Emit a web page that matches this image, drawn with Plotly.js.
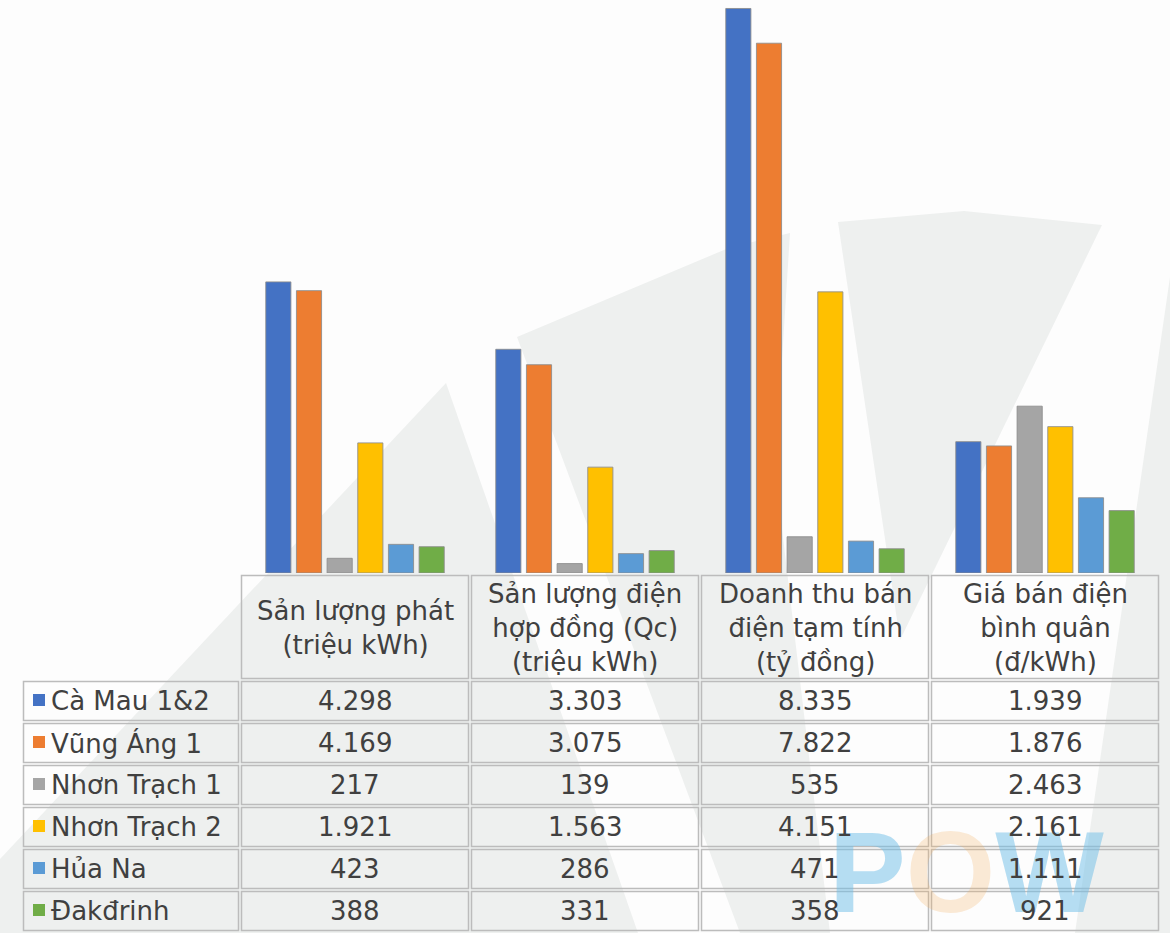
<!DOCTYPE html>
<html>
<head>
<meta charset="utf-8">
<script src="https://cdn.plot.ly/plotly-3.0.1.min.js"></script>
<style>
html,body{margin:0;padding:0;background:#fdfdfd;}
#chart{width:1170px;height:933px;}
</style>
</head>
<body>
<div id="chart"></div>
<script>
// ---- data ----
var categories = [
  "Sản lượng phát<br>(triệu kWh)",
  "Sản lượng điện<br>hợp đồng (Qc)<br>(triệu kWh)",
  "Doanh thu bán<br>điện tạm tính<br>(tỷ đồng)",
  "Giá bán điện<br>bình quân<br>(đ/kWh)"
];
var seriesNames = ["Cà Mau 1&2", "Vũng Áng 1", "Nhơn Trạch 1", "Nhơn Trạch 2", "Hủa Na", "Đakđrinh"];
var caMau      = [4298, 3303, 8335, 1939];
var vungAng    = [4169, 3075, 7822, 1876];
var nhonTrach1 = [217, 139, 535, 2463];
var nhonTrach2 = [1921, 1563, 4151, 2161];
var huaNa      = [423, 286, 471, 1111];
var dakdrinh   = [388, 331, 358, 921];
var seriesValues = [caMau, vungAng, nhonTrach1, nhonTrach2, huaNa, dakdrinh];
var colors = ["#4472c4", "#ed7d31", "#a5a5a5", "#ffc000", "#5b9bd5", "#70ad47"];

// ---- helpers ----
var W = 1170, H = 933;
function fx(px){ return px / W; }
function fy(py){ return (H - py) / H; }
function fmt(v){ return v.toLocaleString('de-DE'); }
var FONT = 'DejaVu Sans, Liberation Sans, Arial, sans-serif';
var TXT = '#404040';
var FS = 26;

// ---- table geometry (pixels) ----
var plotL = 240, plotR = 1160, labelL = 22;
var colW = (plotR - plotL) / categories.length;
var headTop = 574, headBot = 680, rowH = 42;

var traces = [];
seriesValues.forEach(function(vals, i){
  traces.push({
    type: 'bar',
    name: seriesNames[i],
    x: categories,
    y: vals,
    marker: {color: colors[i], line: {color: 'rgba(140,140,140,0.85)', width: 1}},
    hoverinfo: 'skip',
    showlegend: false
  });
});

function poly(pts){
  var p = 'M' + pts.map(function(q){ return fx(q[0]) + ',' + fy(q[1]); }).join(' L') + ' Z';
  return {type: 'path', xref: 'paper', yref: 'paper', path: p,
          fillcolor: '#eef0ef', line: {width: 0}, layer: 'below'};
}
var lineCol = '#bcbcbc';
function cell(x0, y0, x1, y1){
  return {type: 'rect', xref: 'paper', yref: 'paper',
          x0: fx(x0 + 1.5), x1: fx(x1 - 1.5), y0: fy(y0 + 1.5), y1: fy(y1 - 1.5),
          line: {color: lineCol, width: 1.5}, fillcolor: 'rgba(0,0,0,0)', layer: 'above'};
}

var shapes = [
  poly([[0, 859], [446, 383], [638, 933], [0, 933]]),
  poly([[517, 337], [731, 247], [790, 233], [775, 470], [830, 933], [740, 933]]),
  poly([[838, 222], [964, 211], [1102, 225], [900, 640]]),
  poly([[1170, 240], [1170, 933], [1075, 933], [1170, 277]])
];

var annotations = [{
  xref: 'paper', yref: 'paper', x: fx(967), y: fy(872), xanchor: 'center', yanchor: 'middle',
  showarrow: false,
  text: '<b>P<span style="color:rgba(245,175,95,0.5)">O</span>W</b>',
  font: {family: 'Liberation Sans, Arial, sans-serif', size: 115, color: 'rgba(110,190,232,0.5)'}
}];

// header cells + texts
categories.forEach(function(cat, c){
  var x0 = plotL + c * colW;
  shapes.push(cell(x0, headTop, x0 + colW, headBot));
  annotations.push({
    xref: 'x', yref: 'paper', x: cat, y: fy((headTop + headBot) / 2 + 1), xanchor: 'center', yanchor: 'middle',
    showarrow: false, align: 'center', text: cat,
    font: {family: FONT, size: FS, color: TXT}
  });
});

// body rows
seriesNames.forEach(function(name, r){
  var y0 = headBot + r * rowH, y1 = y0 + rowH, yc = (y0 + y1) / 2;
  shapes.push(cell(labelL, y0, plotL, y1));
  // legend key square
  shapes.push({type: 'rect', xref: 'paper', yref: 'paper',
               x0: fx(labelL + 11), x1: fx(labelL + 23), y0: fy(yc + 5), y1: fy(yc - 7),
               fillcolor: colors[r], line: {width: 0}, layer: 'above'});
  annotations.push({
    xref: 'paper', yref: 'paper', x: fx(labelL + 27), y: fy(yc), xanchor: 'left', yanchor: 'middle',
    showarrow: false, align: 'left', text: name,
    font: {family: FONT, size: FS, color: TXT}
  });
  categories.forEach(function(cat, c){
    var x0 = plotL + c * colW;
    shapes.push(cell(x0, y0, x0 + colW, y1));
    annotations.push({
      xref: 'x', yref: 'paper', x: cat, y: fy(yc), xanchor: 'center', yanchor: 'middle',
      showarrow: false, align: 'center', text: fmt(seriesValues[r][c]),
      font: {family: FONT, size: FS, color: TXT}
    });
  });
});

var layout = {
  width: W, height: H,
  margin: {l: 0, r: 0, t: 0, b: 0},
  paper_bgcolor: '#fdfdfd',
  plot_bgcolor: 'rgba(0,0,0,0)',
  barmode: 'group',
  bargap: 0.2,
  bargroupgap: 0.18,
  xaxis: {domain: [fx(plotL), fx(plotR)], showticklabels: false, showgrid: false, zeroline: false, showline: false, ticks: ''},
  yaxis: {domain: [fy(573), 1], range: [0, 8460], visible: false, showgrid: false, zeroline: false},
  shapes: shapes,
  annotations: annotations
};

Plotly.newPlot('chart', traces, layout, {displayModeBar: false, staticPlot: true});
</script>
</body>
</html>
